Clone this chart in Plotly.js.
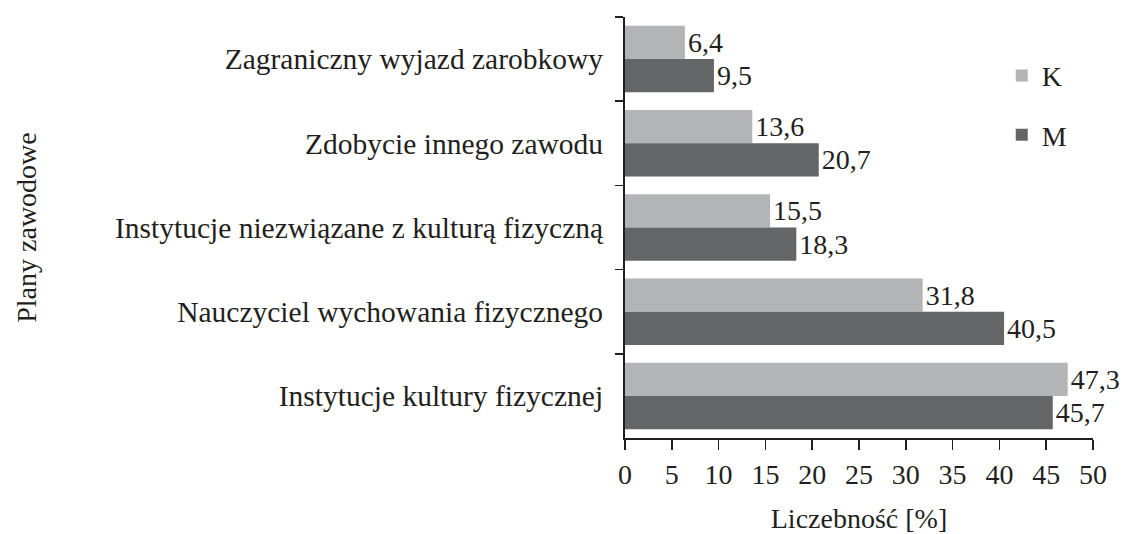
<!DOCTYPE html>
<html>
<head>
<meta charset="utf-8">
<script src="https://cdn.plot.ly/plotly-3.0.1.min.js"></script>
<style>html,body{margin:0;padding:0;background:#fff;}#chart{width:1133px;height:534px;}</style>
</head>
<body>
<div id="chart"></div>
<script>
const categories = [
  "Zagraniczny wyjazd zarobkowy",
  "Zdobycie innego zawodu",
  "Instytucje niezwiązane z kulturą fizyczną",
  "Nauczyciel wychowania fizycznego",
  "Instytucje kultury fizycznej"
];
const valuesK = [6.4, 13.6, 15.5, 31.8, 47.3];
const valuesM = [9.5, 20.7, 18.3, 40.5, 45.7];
const seriesNames = ["K", "M"];
const xTicks = [0, 5, 10, 15, 20, 25, 30, 35, 40, 45, 50];

const fmt = v => v.toFixed(1).replace('.', ',');
const FONT = "Liberation Serif";
const TXT = "#231f20";
const FS = 28;

function barTrace(name, vals, color) {
  return {
    type: 'bar', orientation: 'h', name: name, legendgroup: name,
    y: categories, x: vals,
    text: vals.map(fmt), textposition: 'outside', cliponaxis: false,
    constraintext: 'none',
    textfont: {family: FONT, size: FS, color: TXT},
    marker: {color: color, line: {width: 0}},
    hoverinfo: 'x+y'
  };
}

const data = [
  barTrace(seriesNames[0], valuesK, '#b3b4b6'),
  barTrace(seriesNames[1], valuesM, '#646567')
];

const layout = {
  width: 1133, height: 534,
  margin: {l: 625, r: 40, t: 17, b: 96},
  paper_bgcolor: '#fff', plot_bgcolor: '#fff',
  font: {family: FONT, color: TXT, size: FS},
  barmode: 'group', bargap: 0.21, bargroupgap: 0,
  showlegend: true,
  legend: {
    x: 0.805, y: 0.92, xanchor: 'left', yanchor: 'top',
    font: {family: FONT, size: FS, color: TXT},
    traceorder: 'grouped', tracegroupgap: 20,
    bgcolor: 'rgba(0,0,0,0)'
  },
  xaxis: {
    range: [0, 50], tickvals: xTicks, ticktext: xTicks.map(String),
    showgrid: false, zeroline: false,
    showline: true, linecolor: TXT, linewidth: 2,
    ticks: 'outside', ticklen: 10, tickwidth: 1.5, tickcolor: TXT,
    tickfont: {family: FONT, size: FS, color: TXT},
    title: {text: 'Liczebność [%]', font: {family: FONT, size: FS, color: TXT}, standoff: 20},
    automargin: false, fixedrange: true
  },
  yaxis: {
    autorange: 'reversed', type: 'category',
    showgrid: false, zeroline: false,
    showline: true, linecolor: TXT, linewidth: 2,
    ticks: 'outside', tickson: 'boundaries', ticklen: 8, tickwidth: 1.5, tickcolor: TXT,
    tickfont: {family: FONT, size: 29.5, color: TXT},
    ticklabelstandoff: 14,
    title: {text: 'Plany zawodowe', font: {family: FONT, size: FS, color: TXT}, standoff: 70},
    automargin: false, fixedrange: true
  }
};

Plotly.newPlot('chart', data, layout, {displayModeBar: false, staticPlot: true});
</script>
</body>
</html>
